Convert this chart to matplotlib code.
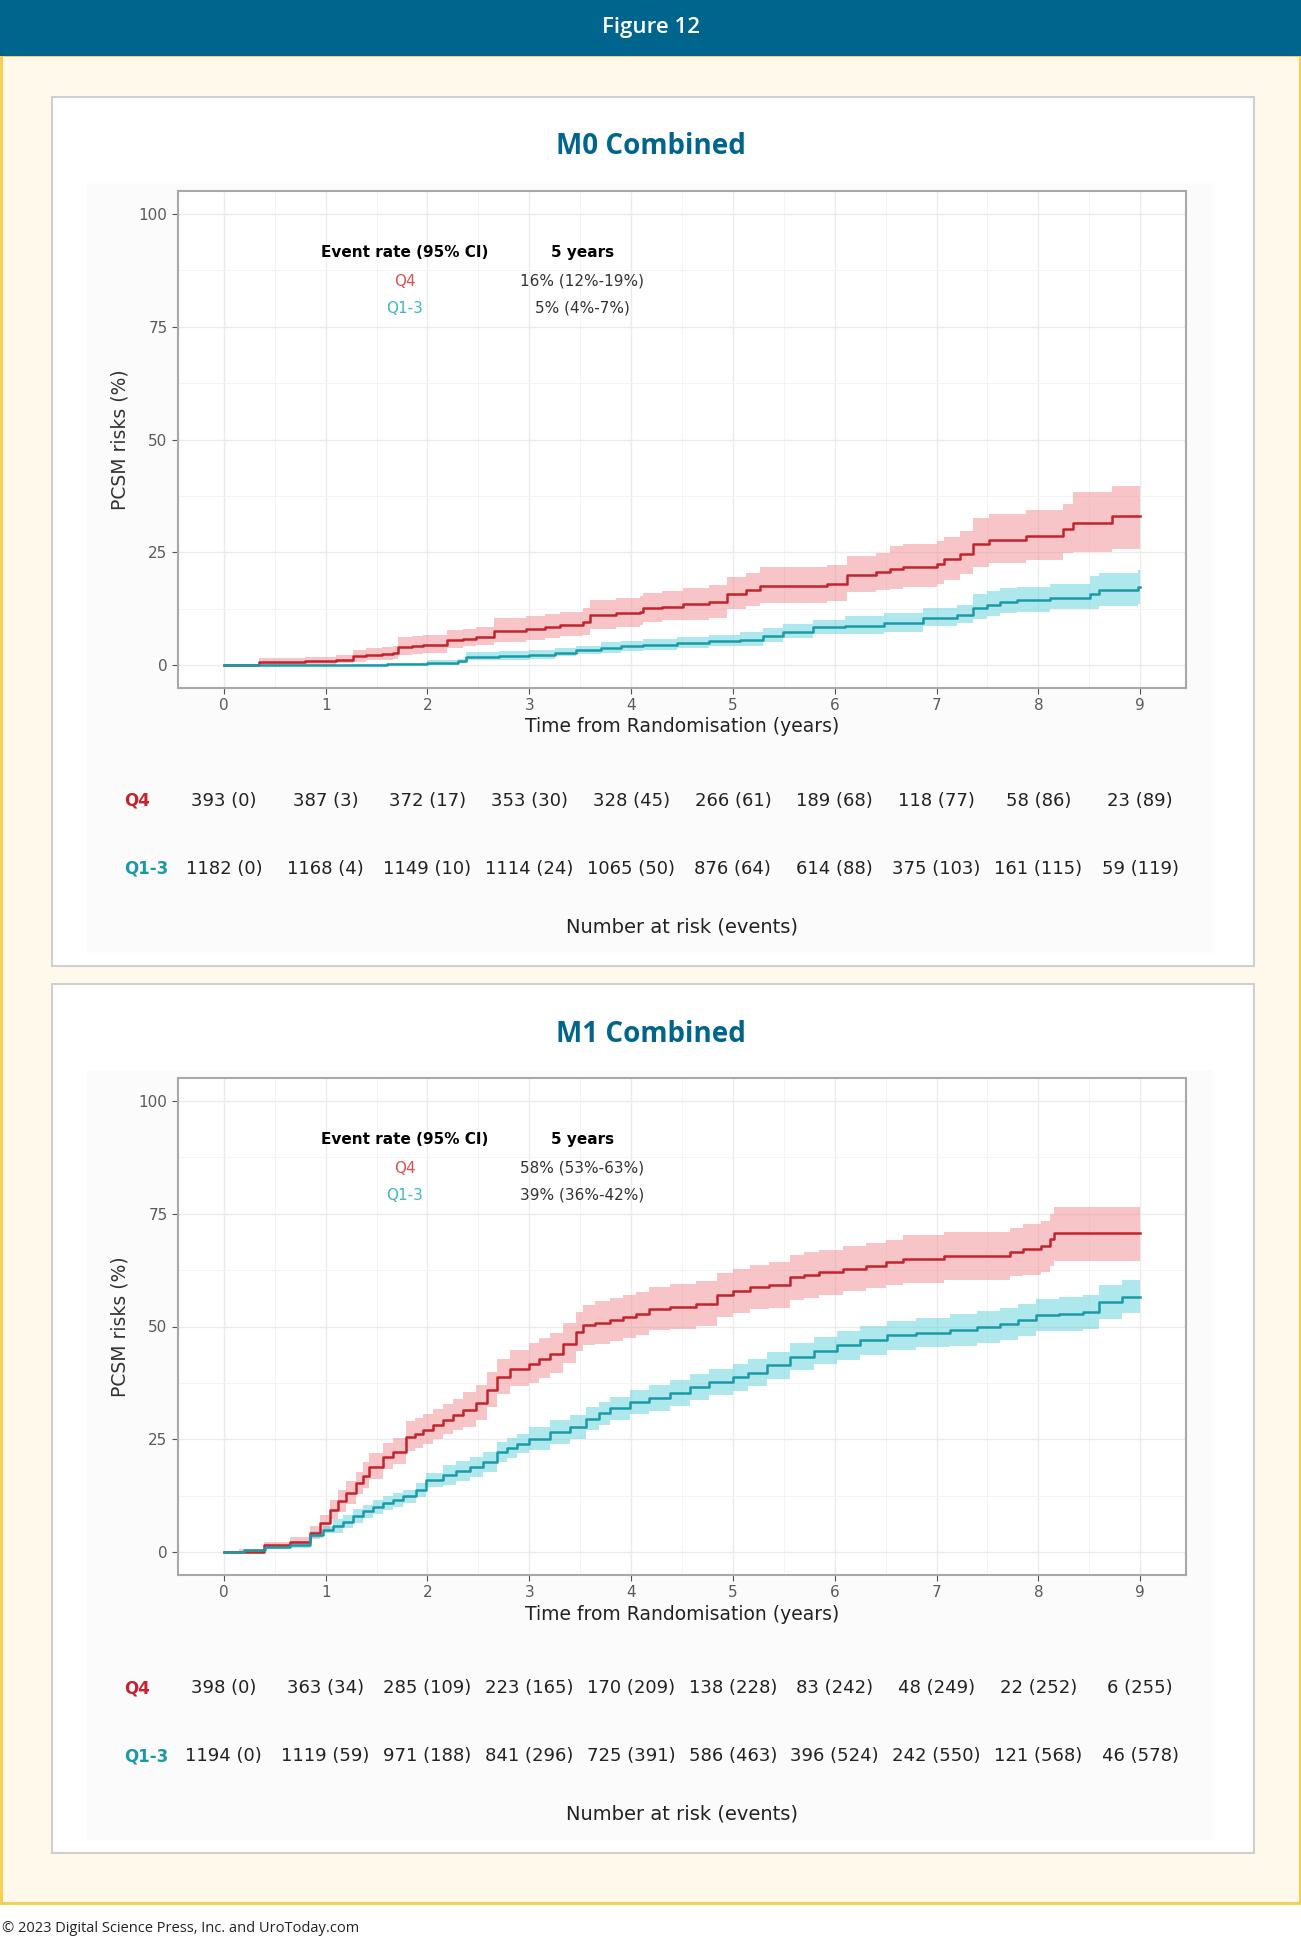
import matplotlib
matplotlib.use("Agg")
import matplotlib.pyplot as plt
import matplotlib.transforms as mtransforms
from matplotlib.patches import Rectangle
from matplotlib.ticker import MultipleLocator

# ---- data ----
years = [0, 1, 2, 3, 4, 5, 6, 7, 8, 9]

# M0 combined, Q4
m0_q4_t = [0, 0.35, 0.8, 1.1, 1.27, 1.4, 1.55, 1.66, 1.71, 1.85, 1.96, 2.19, 2.35, 2.48, 2.65, 2.97,
           3.15, 3.3, 3.53, 3.6, 3.85, 4.09, 4.12, 4.3, 4.51, 4.77, 4.94, 5.13, 5.27, 5.92, 6.12, 6.41,
           6.54, 6.67, 7.0, 7.07, 7.23, 7.36, 7.52, 7.88, 8.24, 8.34, 8.72, 9.0]
m0_q4_est = [0, 0.7, 0.9, 1.2, 2.0, 2.3, 2.5, 2.7, 4.0, 4.3, 4.5, 5.6, 5.9, 6.2, 7.6, 8.1,
             8.5, 8.9, 9.7, 11.1, 11.5, 11.9, 12.6, 13.0, 13.5, 14.1, 15.9, 16.7, 17.6, 18.1, 20.0, 20.6,
             21.4, 21.8, 22.5, 23.5, 24.7, 26.9, 27.8, 28.6, 30.1, 31.5, 33.0, 33.0]
m0_q4_lo = [0, 0, 0.2, 0.5, 0.8, 1.1, 1.3, 1.5, 2.3, 2.6, 2.8, 3.9, 4.2, 4.5, 5.2, 5.7,
            6.1, 6.5, 6.7, 8.1, 8.5, 8.9, 9.6, 10.0, 10.0, 10.6, 12.4, 13.2, 13.8, 14.3, 16.2, 16.8,
            16.9, 17.3, 18.0, 19.0, 20.2, 21.7, 22.6, 23.4, 24.9, 25.0, 25.8, 25.8]
m0_q4_hi = [0.4, 1.6, 1.9, 2.2, 3.5, 3.8, 4.0, 4.2, 6.2, 6.5, 6.7, 7.8, 8.1, 8.4, 10.5, 11.0,
            11.4, 11.8, 12.6, 14.5, 14.9, 15.3, 16.0, 16.4, 17.2, 17.8, 19.6, 20.4, 21.8, 22.3, 24.2, 24.8,
            26.4, 26.8, 27.5, 28.5, 29.7, 32.6, 33.5, 34.3, 35.8, 38.3, 39.8, 39.8]

# M0 combined, Q1-3
m0_q13_t = [0, 1.25, 1.6, 2.0, 2.3, 2.38, 2.7, 3.0, 3.25, 3.46, 3.7, 3.9, 4.12, 4.45, 4.77, 5.07,
            5.3, 5.49, 5.79, 6.1, 6.48, 6.87, 7.2, 7.36, 7.5, 7.62, 7.79, 8.11, 8.51, 8.6, 8.98, 9.0]
m0_q13_est = [0, 0.1, 0.3, 0.6, 1.0, 1.9, 2.1, 2.3, 2.8, 3.4, 3.8, 4.2, 4.5, 5.0, 5.5, 5.6,
              6.6, 7.5, 8.4, 8.8, 9.3, 10.6, 11.1, 12.8, 13.4, 14.1, 14.4, 15.0, 15.9, 16.7, 17.4, 17.4]
m0_q13_lo = [0, 0, 0, 0.2, 0.6, 1.1, 1.3, 1.5, 2.0, 2.6, 2.7, 3.1, 3.4, 3.9, 4.4, 4.2,
             5.2, 6.1, 7.0, 7.0, 7.5, 8.8, 9.3, 10.3, 10.9, 11.6, 11.9, 12.5, 12.4, 13.2, 13.6, 13.6]
m0_q13_hi = [0.2, 0.3, 0.5, 1.1, 1.5, 2.9, 3.1, 3.3, 3.8, 4.4, 5.1, 5.5, 5.8, 6.3, 6.8, 7.3,
             8.3, 9.2, 10.1, 11.0, 11.5, 12.8, 13.3, 15.8, 16.4, 17.1, 17.4, 18.0, 19.7, 20.5, 21.2, 21.2]

# M1 combined, Q4
m1_q4_t = [0, 0.15, 0.39, 0.65, 0.85, 0.94, 1.04, 1.12, 1.2, 1.3, 1.37, 1.43, 1.56, 1.66, 1.79, 1.88,
           1.96, 2.05, 2.15, 2.25, 2.35, 2.48, 2.58, 2.68, 2.81, 3.0, 3.1, 3.2, 3.33, 3.46, 3.53, 3.65,
           3.79, 3.92, 4.05, 4.18, 4.38, 4.64, 4.84, 5.0, 5.17, 5.35, 5.56, 5.7, 5.85, 6.08, 6.31, 6.5,
           6.67, 7.07, 7.72, 7.85, 8.03, 8.11, 8.15, 9.0]
m1_q4_est = [0, 0.2, 1.7, 2.4, 4.3, 6.5, 9.4, 11.3, 13.1, 15.3, 17.0, 19.0, 21.2, 22.3, 25.6, 26.3,
             27.1, 28.2, 29.3, 30.4, 31.5, 33.0, 35.9, 38.9, 40.7, 41.8, 42.9, 44.0, 46.2, 48.8, 50.3, 50.8,
             51.4, 52.1, 52.8, 53.9, 54.3, 55.0, 56.9, 57.8, 58.7, 59.2, 60.9, 61.4, 62.0, 62.8, 63.5, 64.2,
             65.0, 65.7, 66.4, 67.1, 67.8, 69.3, 70.8, 70.8]
m1_q4_lo = [0, 0, 1.4, 1.6, 3.0, 4.9, 7.4, 9.0, 10.8, 13.0, 14.3, 16.3, 18.5, 19.6, 22.4, 23.1,
            23.9, 25.0, 26.1, 27.2, 27.7, 29.2, 32.1, 35.1, 36.9, 37.5, 38.6, 39.7, 41.9, 44.5, 46.0, 46.2,
            46.8, 47.5, 48.2, 49.3, 49.5, 50.2, 52.1, 53.0, 53.9, 54.2, 55.9, 56.4, 57.0, 57.8, 58.5, 59.2,
            59.7, 60.4, 61.1, 61.3, 62.0, 63.5, 64.6, 64.6]
m1_q4_hi = [0.4, 0.8, 2.3, 3.4, 5.8, 8.3, 11.7, 13.9, 15.7, 17.9, 20.0, 22.0, 24.2, 25.3, 29.1, 29.8,
            30.6, 31.7, 32.8, 33.9, 35.5, 37.0, 39.9, 42.9, 44.7, 46.3, 47.4, 48.5, 50.7, 53.3, 54.8, 55.6,
            56.2, 56.9, 57.6, 58.7, 59.3, 60.0, 61.9, 62.8, 63.7, 64.2, 65.9, 66.4, 67.0, 67.8, 68.5, 69.2,
            70.3, 71.0, 71.7, 72.6, 73.3, 74.8, 76.5, 76.5]

# M1 combined, Q1-3
m1_q13_t = [0, 0.2, 0.4, 0.65, 0.845, 0.975, 1.07, 1.17, 1.27, 1.37, 1.47, 1.56, 1.66, 1.76, 1.89, 1.99,
            2.15, 2.28, 2.42, 2.55, 2.68, 2.78, 2.88, 3.0, 3.2, 3.4, 3.56, 3.68, 3.79, 3.99, 4.18, 4.38,
            4.58, 4.77, 5.0, 5.15, 5.33, 5.56, 5.8, 6.02, 6.25, 6.51, 6.8, 7.13, 7.4, 7.62, 7.8, 7.98,
            8.2, 8.44, 8.6, 8.82, 9.0]
m1_q13_est = [0, 0.5, 1.1, 1.7, 3.9, 5.0, 5.9, 6.8, 8.0, 9.1, 10.0, 10.9, 11.6, 12.4, 13.8, 16.0,
              17.1, 18.0, 19.0, 20.1, 22.3, 23.2, 24.1, 25.2, 26.7, 27.8, 29.6, 30.8, 31.9, 33.3, 34.1, 35.2,
              36.6, 37.7, 38.8, 39.8, 41.4, 43.3, 44.6, 45.8, 47.0, 48.1, 48.6, 49.2, 49.9, 50.6, 51.5, 52.5,
              52.8, 53.2, 55.4, 56.6, 56.6]
m1_q13_lo = [0, 0.2, 0.8, 0.9, 3.1, 4.2, 4.4, 5.3, 6.5, 7.6, 8.5, 9.4, 10.1, 10.9, 12.3, 14.5,
             14.9, 15.8, 16.8, 17.9, 20.1, 21.0, 21.9, 22.6, 24.1, 25.2, 27.0, 28.2, 29.3, 30.7, 31.2, 32.3,
             33.7, 34.8, 35.8, 36.8, 38.4, 40.3, 41.6, 42.6, 43.8, 44.9, 45.4, 45.7, 46.4, 47.1, 48.0, 49.0,
             49.1, 49.5, 51.7, 52.9, 52.9]
m1_q13_hi = [0.3, 0.8, 1.4, 2.5, 4.7, 5.8, 7.4, 8.3, 9.5, 10.6, 11.5, 12.4, 13.1, 13.9, 15.3, 17.5,
             19.3, 20.2, 21.2, 22.3, 24.5, 25.4, 26.3, 27.8, 29.3, 30.4, 32.2, 33.4, 34.5, 35.9, 37.0, 38.1,
             39.5, 40.6, 41.8, 42.8, 44.4, 46.3, 47.6, 49.0, 50.2, 51.3, 51.8, 52.7, 53.4, 54.1, 55.0, 56.0,
             56.5, 56.9, 59.1, 60.3, 60.3]

# numbers at risk (events)
m0_q4_n = [393, 387, 372, 353, 328, 266, 189, 118, 58, 23]
m0_q4_ev = [0, 3, 17, 30, 45, 61, 68, 77, 86, 89]
m0_q13_n = [1182, 1168, 1149, 1114, 1065, 876, 614, 375, 161, 59]
m0_q13_ev = [0, 4, 10, 24, 50, 64, 88, 103, 115, 119]
m1_q4_n = [398, 363, 285, 223, 170, 138, 83, 48, 22, 6]
m1_q4_ev = [0, 34, 109, 165, 209, 228, 242, 249, 252, 255]
m1_q13_n = [1194, 1119, 971, 841, 725, 586, 396, 242, 121, 46]
m1_q13_ev = [0, 59, 188, 296, 391, 463, 524, 550, 568, 578]

m0_rates = ["16% (12%-19%)", "5% (4%-7%)"]
m1_rates = ["58% (53%-63%)", "39% (36%-42%)"]

# ---- styling ----
W, H = 1301, 1941
BLUE = "#00658C"
RED = "#C3232C"
RED_FILL = "#F08C90"
TEAL = "#1B9AA6"
TEAL_FILL = "#5FD0DA"
RED_TXT = "#D9534F"
TEAL_TXT = "#3FB6C6"

fig = plt.figure(figsize=(W / 100, H / 100), dpi=100)
bg = fig.add_axes([0, 0, 1, 1])
bg.set_xlim(0, W)
bg.set_ylim(H, 0)
bg.axis("off")

bg.add_patch(Rectangle((1, 55), W - 2, 1848, facecolor="#FFF9EB", edgecolor="#F7CC48", lw=2))
bg.add_patch(Rectangle((0, 0), W, 56, facecolor=BLUE, edgecolor="none"))
bg.text(W / 2, 28, "Figure 12", color="white", fontsize=16, fontweight="semibold",
        family="Open Sans", ha="center", va="center")
bg.text(2, 1929, "\u00a9 2023 Digital Science Press, Inc. and UroToday.com", fontsize=10.5,
        family="Open Sans", color="#222222", ha="left", va="center")


def fx(px):
    return px / W


def fy(py):
    return 1 - py / H


def panel(top, title, q4, q13, rates, q4_n, q4_ev, q13_n, q13_ev):
    # white box
    bg.add_patch(Rectangle((52, top), 1202, 869, facecolor="white", edgecolor="#CFCFCF", lw=1.5))
    bg.add_patch(Rectangle((87, top + 86), 1126, 770, facecolor="#FBFBFB", edgecolor="none"))
    bg.text(W / 2, top + 50, title, color=BLUE, fontsize=20, fontweight="bold",
            family="Open Sans", ha="center", va="center")

    a_top = top + 94
    ax = fig.add_axes([fx(178), fy(a_top + 497), fx(1186) - fx(178), 497 / H])
    ax.set_facecolor("white")
    ax.set_xlim(-0.45, 9.45)
    ax.set_ylim(-5, 105)
    ax.xaxis.set_major_locator(MultipleLocator(1))
    ax.xaxis.set_minor_locator(MultipleLocator(0.5))
    ax.yaxis.set_major_locator(MultipleLocator(25))
    ax.yaxis.set_minor_locator(MultipleLocator(12.5))
    ax.grid(which="major", color="#EBEBEB", lw=1.0)
    ax.grid(which="minor", color="#F3F3F3", lw=0.6)
    ax.set_axisbelow(True)
    for s in ax.spines.values():
        s.set_color("#A8A8A8")
        s.set_linewidth(1.5)
    ax.tick_params(which="major", length=4, color="#555555", labelcolor="#5A5A5A", labelsize=11)
    ax.tick_params(which="minor", length=0)

    for (t, est, lo, hi), line, fill in ((q4, RED, RED_FILL), (q13, TEAL, TEAL_FILL)):
        ax.fill_between(t, lo, hi, step="post", color=fill, alpha=0.5, lw=0)
        ax.step(t, est, where="post", color=line, lw=1.8)

    # in-plot legend table
    ax.text(1.78, 91.3, "Event rate (95% CI)", fontsize=11, fontweight="bold", ha="center", va="center")
    ax.text(3.52, 91.3, "5 years", fontsize=11, fontweight="bold", ha="center", va="center")
    ax.text(1.78, 85, "Q4", fontsize=11, color=RED_TXT, ha="center", va="center")
    ax.text(1.78, 79, "Q1-3", fontsize=11, color=TEAL_TXT, ha="center", va="center")
    ax.text(3.52, 85, rates[0], fontsize=11, color="#333333", ha="center", va="center")
    ax.text(3.52, 79, rates[1], fontsize=11, color="#333333", ha="center", va="center")

    fig.text(fx(120), fy(a_top + 249), "PCSM risks (%)", rotation=90, fontsize=13.5,
             color="#333333", ha="center", va="center")
    fig.text(fx(682), fy(a_top + 536), "Time from Randomisation (years)", fontsize=13.5,
             color="#222222", ha="center", va="center")

    # risk table
    trans = mtransforms.blended_transform_factory(ax.transData, fig.transFigure)
    y4 = fy(top + 704)
    y13 = fy(top + 772)
    fig.text(fx(124), y4, "Q4", fontsize=12, fontweight="bold", color=RED, ha="left", va="center")
    fig.text(fx(124), y13, "Q1-3", fontsize=12, fontweight="bold", color=TEAL, ha="left", va="center")
    for yr, n, e in zip(years, q4_n, q4_ev):
        ax.text(yr, y4, f"{n} ({e})", transform=trans, fontsize=13, color="#222222",
                ha="center", va="center", clip_on=False)
    for yr, n, e in zip(years, q13_n, q13_ev):
        ax.text(yr, y13, f"{n} ({e})", transform=trans, fontsize=13, color="#222222",
                ha="center", va="center", clip_on=False)
    fig.text(fx(682), fy(top + 830), "Number at risk (events)", fontsize=14,
             color="#222222", ha="center", va="center")


panel(97, "M0 Combined",
      (m0_q4_t, m0_q4_est, m0_q4_lo, m0_q4_hi),
      (m0_q13_t, m0_q13_est, m0_q13_lo, m0_q13_hi),
      m0_rates, m0_q4_n, m0_q4_ev, m0_q13_n, m0_q13_ev)
panel(984, "M1 Combined",
      (m1_q4_t, m1_q4_est, m1_q4_lo, m1_q4_hi),
      (m1_q13_t, m1_q13_est, m1_q13_lo, m1_q13_hi),
      m1_rates, m1_q4_n, m1_q4_ev, m1_q13_n, m1_q13_ev)

fig.savefig("out.png", dpi=100)
